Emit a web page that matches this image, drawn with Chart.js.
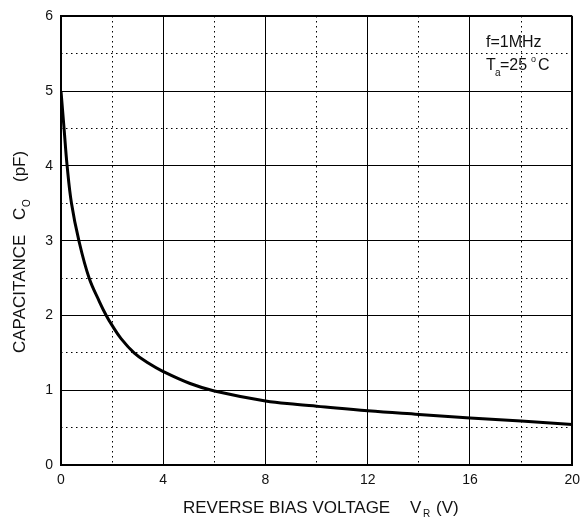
<!DOCTYPE html>
<html lang="en">
<head>
    <meta charset="UTF-8">
    <title>Capacitance vs reverse bias voltage</title>
    <style>
        body { margin: 0; background: #fff; }
        #grafico { display: block; }
    </style>
</head>
<body>
    <canvas id="grafico" width="587" height="517"></canvas>

<script src="https://cdn.jsdelivr.net/npm/chart.js"></script>
<script>
    // valores
    const tensaoVR = [0, 0.12, 0.24, 0.41, 0.7, 1.1, 1.51, 1.77, 2.0, 2.35, 2.86, 3.38, 4, 5.05, 6, 8, 9.25, 10, 12, 14, 16, 18, 20];
    const capacitanciaCO = [5.0, 4.5, 4.0, 3.5, 3.0, 2.5, 2.18, 2.0, 1.867, 1.69, 1.5, 1.37, 1.25, 1.09, 0.99, 0.857, 0.81, 0.787, 0.724, 0.676, 0.63, 0.587, 0.543];
    const ticksX = [0, 4, 8, 12, 16, 20];
    const ticksY = [0, 1, 2, 3, 4, 5, 6];

    const fonte = '"Liberation Sans", Arial, sans-serif';
    const pontos = tensaoVR.map((v, i) => ({ x: v, y: capacitanciaCO[i] }));

    // textos extras (titulos com subscrito e condicoes do ensaio)
    const textos = {
        id: 'textos',
        afterDraw(chart) {
            const ctx = chart.ctx;
            ctx.save();
            ctx.fillStyle = '#111';
            ctx.textBaseline = 'alphabetic';
            ctx.textAlign = 'left';

            // titulo eixo x
            const y = 513;
            ctx.font = '17px ' + fonte;
            ctx.fillText('REVERSE BIAS VOLTAGE', 183, y);
            ctx.fillText('V', 410, y);
            ctx.fillText('(V)', 436, y);
            ctx.font = '10px ' + fonte;
            ctx.fillText('R', 423, y + 4);

            // titulo eixo y (rotacionado)
            ctx.translate(25, 353);
            ctx.rotate(-Math.PI / 2);
            ctx.font = '17px ' + fonte;
            ctx.fillText('CAPACITANCE', 0, 0);
            ctx.fillText('C', 133, 0);
            ctx.fillText('(pF)', 171, 0);
            ctx.font = '10px ' + fonte;
            ctx.fillText('O', 146, 5);
            ctx.restore();

            // condicoes
            ctx.save();
            ctx.fillStyle = '#111';
            ctx.font = '16px ' + fonte;
            ctx.fillText('f=1MHz', 486, 47);
            ctx.fillText('T', 486, 70);
            ctx.fillText('=25', 500, 70);
            ctx.fillText('C', 538, 70);
            ctx.font = '10px ' + fonte;
            ctx.fillText('a', 495, 76);
            ctx.font = '9px ' + fonte;
            ctx.fillText('o', 531, 62);
            ctx.restore();
        }
    };

    const borda = c => (c.tick && (c.tick.value === 20 || c.tick.value === 6)) ? 2 : 1;

    new Chart(document.getElementById('grafico'), {
        type: 'scatter',
        data: {
            datasets: [{
                data: pontos,
                showLine: true,
                borderColor: '#000',
                borderWidth: 3,
                pointRadius: 0,
                tension: 0.4
            }]
        },
        options: {
            responsive: false,
            animation: false,
            devicePixelRatio: 1,
            layout: { padding: 0 },
            plugins: { legend: { display: false }, tooltip: { enabled: false } },
            scales: {
                x: {
                    type: 'linear', position: 'bottom', min: 0, max: 20,
                    afterBuildTicks: s => { s.ticks = ticksX.map(v => ({ value: v })); },
                    afterFit: s => { s.height = 52; },
                    ticks: { color: '#111', padding: 7, font: { family: fonte, size: 14 } },
                    grid: { color: '#000', lineWidth: borda, drawTicks: false },
                    border: { display: true, color: '#000', width: 2 }
                },
                x2: {
                    type: 'linear', position: 'top', min: 0, max: 20,
                    afterFit: s => { s.height = 15; },
                    ticks: { display: false, stepSize: 2 },
                    grid: { color: '#000', lineWidth: 1, drawTicks: false },
                    border: { display: false, dash: [1.5, 3.5] }
                },
                y: {
                    type: 'linear', position: 'left', min: 0, max: 6,
                    afterBuildTicks: s => { s.ticks = ticksY.map(v => ({ value: v })); },
                    afterFit: s => { s.width = 61; },
                    ticks: { color: '#111', padding: 8, font: { family: fonte, size: 14 } },
                    grid: { color: '#000', lineWidth: borda, drawTicks: false },
                    border: { display: true, color: '#000', width: 2 }
                },
                y2: {
                    type: 'linear', position: 'right', min: 0, max: 6,
                    afterFit: s => { s.width = 9; },
                    ticks: { display: false, stepSize: 0.5 },
                    grid: { color: '#000', lineWidth: 1, drawTicks: false },
                    border: { display: false, dash: [1.5, 3.5] }
                }
            }
        },
        plugins: [textos]
    });
</script>
</body>
</html>
